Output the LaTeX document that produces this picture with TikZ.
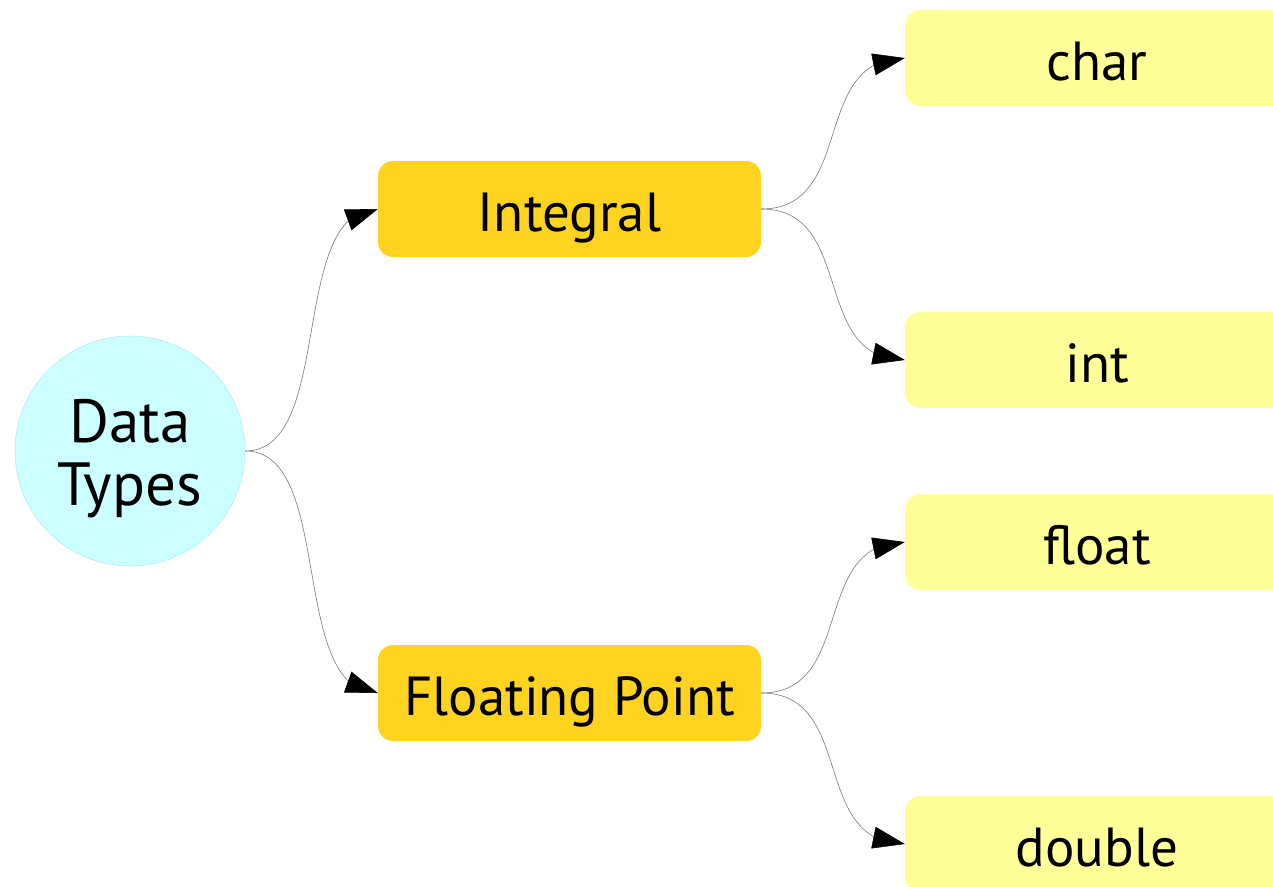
\documentclass[tikz,border=0pt]{standalone}
\usepackage{fontspec}
\setmainfont{PT Sans}
\usetikzlibrary{arrows.meta,bending}
\definecolor{rootcyan}{HTML}{CCFFFF}
\definecolor{rootline}{HTML}{A8E4F2}
\definecolor{groupgold}{HTML}{FFD320}
\definecolor{leafyellow}{HTML}{FFFF99}
\definecolor{linkgray}{HTML}{7A7A7A}

\begin{document}
\begin{tikzpicture}
        [x=1pt, y=-1pt,
        root/.style={circle, draw=rootline, fill=rootcyan, minimum size=230pt, inner sep=0pt, align=center, text height=122pt, text depth=14pt, font=\fontsize{61}{63}\selectfont},
        group/.style={rectangle, rounded corners=15pt, fill=groupgold, minimum width=383pt, minimum height=96pt, inner sep=0pt, text height=50pt, text depth=6pt, font=\fontsize{55}{63}\selectfont},
        leaf/.style={rectangle, rounded corners=15pt, fill=leafyellow, minimum width=384pt, minimum height=96pt, inner sep=0pt, text height=50pt, text depth=6pt, font=\fontsize{55}{63}\selectfont},
        link/.style={linkgray, line width=0.6pt, -{Triangle[length=32pt, width=22pt, color=black]}}]

        \useasboundingbox (0,0) rectangle (1273,886);

        % root and the two groups
        \node[root] (types) at (130,451) {Data\\Types};
        \node[group] (integral) at (569.5,209) {Integral};
        \node[group] (floating) at (569.5,693) {Floating Point};

        % leaves (they run past the right edge)
        \node[leaf] (char) at (1097,58) {char};
        \node[leaf] (int) at (1097,360) {int};
        \node[leaf] (float) at (1097,542) {float};
        \node[leaf] (double) at (1097,844) {double};

        % links from the root
        \draw[link] (types.east) .. controls +(90,0) and +(-90,0) .. (integral.west);
        \draw[link] (types.east) .. controls +(90,0) and +(-90,0) .. (floating.west);

        % links to the leaves
        \draw[link] (integral.east) .. controls +(95,0) and +(-95,0) .. (char.west);
        \draw[link] (integral.east) .. controls +(95,0) and +(-95,0) .. (int.west);
        \draw[link] (floating.east) .. controls +(95,0) and +(-95,0) .. (float.west);
        \draw[link] (floating.east) .. controls +(95,0) and +(-95,0) .. (double.west);

\end{tikzpicture}
\end{document}
